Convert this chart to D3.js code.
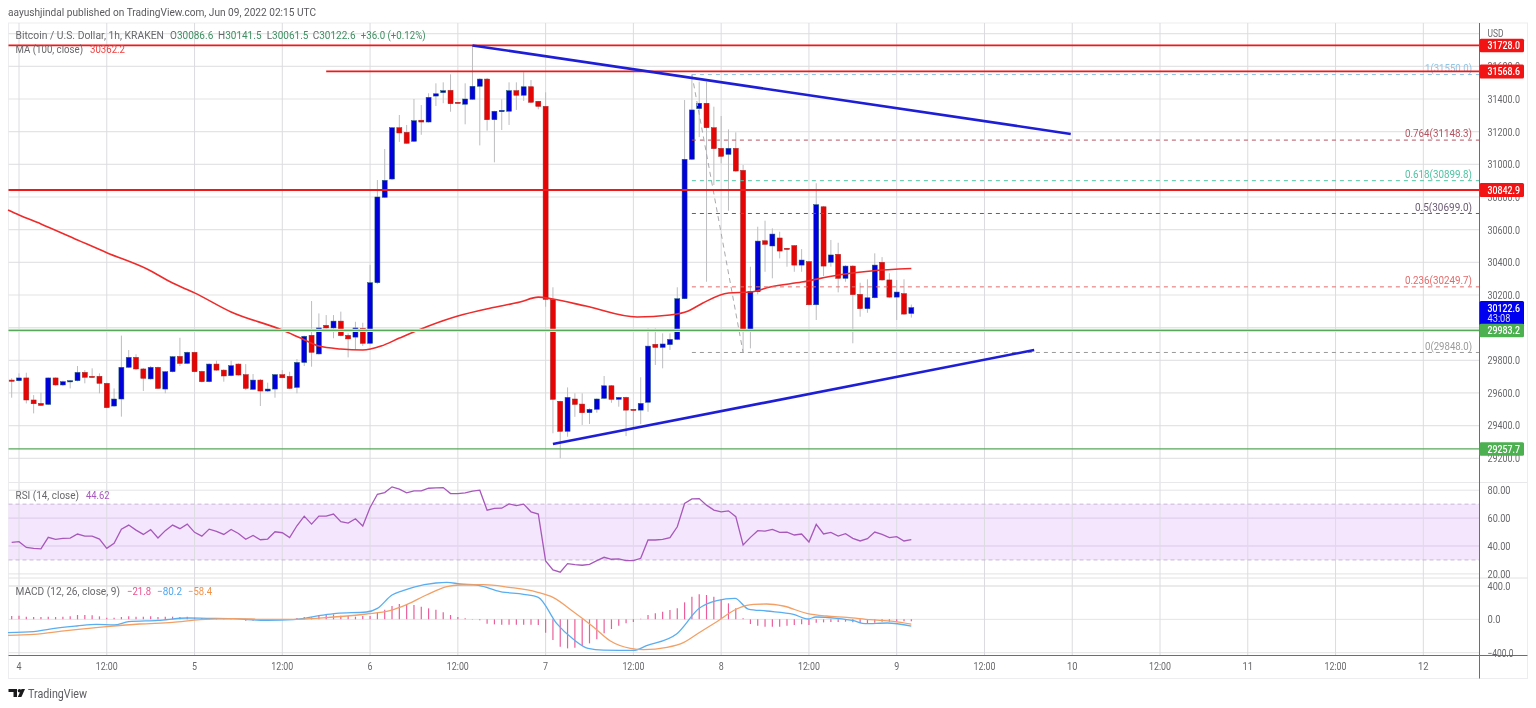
<!DOCTYPE html>
<html><head><meta charset="utf-8">
<script src="https://cdn.jsdelivr.net/npm/d3@7"></script>
<style>
html,body{margin:0;padding:0;background:#fff;overflow:hidden}
svg{display:block;filter:blur(0.35px)}
text{font-family:Roboto,"Open Sans",sans-serif}
</style></head><body>
<svg id="c" width="1536" height="708"></svg>
<script>
// ---------- data (hours counted from Jun 4 00:00 UTC) ----------
const firstHour = -1;
const opens = [29679,29675,29692,29557,29536,29530,29692,29649,29669,29675,29726,29702,29702,29659,29520,29563,29757,29818,29747,29686,29757,29624,29730,29824,29781,29849,29732,29669,29777,29740,29706,29777,29712,29622,29679,29612,29624,29712,29702,29634,29787,29953,29839,30014,29998,30040,29953,29942,29996,29904,30275,30798,30910,31224,31196,31141,31270,31259,31418,31439,31453,31380,31368,31398,31478,31522,31273,31322,31325,31451,31423,31475,31386,31355,30171,29549,29365,29563,29532,29479,29500,29567,29644,29561,29573,29500,29495,29543,29898,29879,29896,29928,30177,31031,31341,31374,31224,31098,31061,31098,30963,29990,30220,30532,30500,30549,30486,30502,30383,30404,30140,30740,30400,30449,30302,30377,30204,30116,30183,30400,30292,30187,30208,30086.6];
const highs = [29690,29720,29724,29587,29602,29695,29695,29675,29679,29765,29740,29751,29720,29663,29628,29951,29863,29837,29753,29765,29761,29734,29826,29938,29853,29853,29736,29781,29798,29745,29798,29781,29777,29716,29686,29663,29716,29740,29730,29808,29951,30163,30087,30077,30077,30098,29965,30036,30030,30384,30904,31094,31228,31302,31241,31400,31363,31435,31496,31502,31551,31382,31496,31729,31527,31529,31328,31398,31502,31502,31564,31516,31388,31441,30247,29552,29634,29598,29598,29506,29567,29704,29648,29575,29577,29502,29696,29996,29996,29965,29965,30247,31394,31547,31506,31506,31353,31296,31214,31196,30996,30373,30618,30655,30608,30587,30488,30506,30481,30408,30884,30745,30537,30520,30382,30382,30275,30296,30455,30432,30333,30292,30296,30141.5];
const lows = [29571,29671,29536,29475,29522,29526,29645,29642,29628,29671,29659,29693,29598,29506,29516,29455,29753,29741,29612,29681,29624,29598,29726,29765,29777,29726,29665,29665,29736,29669,29702,29706,29618,29618,29520,29606,29571,29690,29624,29598,29765,29761,29835,29994,29935,29947,29818,29863,29888,29900,30267,30794,30905,31137,31127,31137,31181,31255,31357,31374,31322,31372,31245,31394,31116,31206,31012,31210,31241,31333,31388,31374,31337,30128,29353,29200,29332,29454,29404,29410,29479,29563,29540,29516,29336,29389,29410,29485,29771,29751,29863,29924,30175,31027,31167,30281,30873,31006,30716,30955,29852,29873,30204,30342,30302,30424,30373,30342,30342,30137,30047,30316,30373,30216,30281,29904,30067,30091,30179,30287,30183,30047,30079,30061.5];
const closes = [29673,29692,29557,29534,29524,29692,29649,29669,29675,29726,29696,29696,29659,29510,29563,29757,29818,29747,29690,29757,29628,29730,29822,29781,29849,29730,29669,29777,29740,29704,29767,29710,29628,29679,29612,29624,29712,29693,29628,29787,29947,29849,29998,29998,30040,29951,29931,29998,29904,30275,30800,30902,31224,31192,31129,31267,31259,31410,31432,31451,31371,31374,31400,31478,31522,31273,31325,31331,31451,31423,31475,31380,31355,30173,29561,29365,29573,29530,29479,29500,29563,29644,29561,29573,29495,29494,29536,29887,29879,29900,29928,30177,31031,31333,31374,31224,31096,31049,31098,30959,29990,30222,30530,30510,30573,30469,30482,30383,30414,30140,30753,30377,30445,30302,30377,30202,30116,30183,30383,30292,30187,30218,30083,30122.6];

const maHours = [-1.5,0,3,8,12,17.5,21,24,29,36,38.5,41,44,47,49.5,52,56,60,64.5,68.5,71,73,77.5,84.5,89,91.5,93.5,97,100,102.7,107,112,116.5,122];
const maValues = [30720,30690,30635,30537,30459,30359,30273,30213,30096,29985,29936,29887,29869,29863,29887,29936,30010,30071,30120,30157,30187,30175,30132,30065,30077,30102,30151,30212,30218,30249,30279,30322,30347,30362.2];

const rsiValues = [42.6,43.1,39,38.3,37.9,46.2,44.8,45.5,45.7,48.6,47.1,47.1,45,38.3,41.9,52.1,55,51.4,48.3,51.7,45.7,51,55,52.4,55.7,49.8,47.1,52.1,50.5,48.3,51.9,49,44.8,47.6,44.5,45,50.2,49.5,46,54.5,61.4,55.7,61.4,61.4,62.9,57.4,56.4,59.5,54.3,67.6,77.1,78.3,82.4,80.7,78.1,79.5,79.5,81.4,81.7,81.9,77.6,77.6,78.1,79.3,80,65.7,66.9,67.1,70.2,69,70,64.5,62.9,29.3,22.9,21.2,27.4,26.7,26.2,26.9,29.5,31.9,30.5,30.7,29.5,29.5,31.2,44.3,44.3,44.8,46,53.8,70.5,73.8,74,69.3,65.7,64.5,65.2,61,40.7,46.2,51,50.7,51.9,49.8,50,47.9,48.6,42.9,55.5,48.6,49.8,47.1,48.8,45.5,43.6,45.2,50,48.3,46,46.7,43.6,44.62];

const histValues = [40,44,32,28,28,32,28,32,36,52,52,48,36,20,20,28,36,32,32,36,28,32,32,28,32,20,16,16,12,8,8,0,-16,-16,-12,-8,-4,0,2,16,28,24,52,52,60,44,40,32,40,40,80,116,160,184,184,172,152,132,116,84,52,28,12,4,-12,-52,-60,-64,-64,-64,-64,-64,-68,-160,-248,-328,-348,-340,-320,-288,-240,-168,-116,-76,-48,-32,8,52,72,92,112,132,204,272,300,292,272,240,192,132,12,-56,-76,-88,-88,-88,-76,-68,-60,-68,-40,-36,-32,-32,-28,-36,-48,-48,-40,-28,-28,-28,-24,-21.8];
const macdHours = [-1.5,2,4.2,7.9,10.6,13,15,19,23,25.7,29,34,37.5,41,43.4,47.5,49,51,52.5,54,57,58.5,60.3,62.8,65.8,69,71,73.5,75.8,77.8,79.9,84,85.8,89.9,93,95.4,97.9,99.7,102.2,105.9,107.9,108.9,111.8,114.1,115.7,118.7,122];
const macdValues = [-160,-148,-116,-80,-60,-68,-28,-12,16,12,8,-12,-4,44,72,88,132,292,344,388,436,444,424,408,332,300,264,-48,-240,-348,-368,-372,-316,-176,132,224,252,124,100,60,4,28,12,-16,-52,-44,-80.2];
const signalHours = [-1.5,2,6.5,12,16.5,21,24.8,29.3,34,37.5,43,47.5,50.7,53,55.7,58.5,60.3,63.5,67,70.8,73,75.8,78.5,80.8,83.6,85.4,88.6,90.9,93.2,95.4,98.1,100.4,102.2,104.5,107.7,110.4,113.2,116.4,119.6,122];
const signalValues = [-192,-180,-136,-88,-56,-36,-4,8,0,0,28,64,104,176,292,392,412,416,384,328,264,92,-88,-256,-348,-364,-336,-276,-148,-28,124,180,184,160,72,40,24,-4,-24,-58.4];

const timeTickHours = [0,12,24,36,48,60,72,84,96,108,120,132,144,156,168,180,192];
const timeTickLabels = ["4","12:00","5","12:00","6","12:00","7","12:00","8","12:00","9","12:00","10","12:00","11","12:00","12"];
const priceTicks = [31800,31600,31400,31200,31000,30800,30600,30400,30200,30000,29800,29600,29400,29200];
const hiddenPriceLabels = [31800,30000];
const rsiTicks = [80,60,40,20];
const macdTicks = [400,0,-400];

const redLevels = [31728.0,31568.6,30842.9];
const redLevelStart = [null,42,null];
const greenLevels = [29983.2,29257.7];
const trendHours = [[62,143.8],[73,138.8]];
const trendPrices = [[31728,31186],[29287,29863]];
const fibRatios = ["1","0.764","0.618","0.5","0.236","0"];
const fibPrices = [31550.0,31148.3,30899.8,30699.0,30249.7,29848.0];
const fibColors = ["#8fc5e6","#b5525f","#4fc3a1","#6b5b72","#e46a6a","#9a9a9a"];
const fibStartHour = 92, fibEndHour = 99;

// ---------- scales ----------
const PL=8.5, PR=1479.5, FR=1527.5, TOP=23, BOT=655.5, FB=678.5;
const x = d3.scaleLinear().domain([0,120]).range([19,896.7]);
const y = d3.scaleLinear().domain([31400,29200]).range([99,458.3]);
const yR = d3.scaleLinear().domain([40,80]).range([546,490.2]);
const yM = d3.scaleLinear().domain([400,-400]).range([586,652.7]);

const svg = d3.select("#c");
const GRID="#e4e4e6", TXT="#68686c";
const g = svg.append("g");

function label(px,py,str,o={}){
  const t=g.append("text").attr("x",px).attr("y",py).attr("dy","0.35em").text(str)
    .attr("fill",o.fill||TXT).attr("font-size",o.size||11)
    .attr("text-anchor",o.anchor||"start");
  if(o.weight)t.attr("font-weight",o.weight);
  if(o.width)t.attr("textLength",o.width).attr("lengthAdjust","spacingAndGlyphs");
  return t;
}
function hline(yy,x1,x2,c,w,dash){
  const l=g.append("line").attr("x1",x1).attr("x2",x2).attr("y1",yy).attr("y2",yy).attr("stroke",c).attr("stroke-width",w);
  if(dash)l.attr("stroke-dasharray",dash);
  return l;
}
// frame
g.append("rect").attr("x",PL).attr("y",TOP).attr("width",FR-PL).attr("height",FB-TOP).attr("fill","#fff").attr("stroke","#ededef");

// RSI band
g.append("rect").attr("x",PL).attr("width",PR-PL).attr("y",yR(70)).attr("height",yR(30)-yR(70)).attr("fill","#f4e6fd");

// grid
priceTicks.forEach(v=>hline(y(v),PL,PR,GRID,1.2));
rsiTicks.forEach(v=>hline(yR(v),PL,PR,v==60||v==40?"#dcc9ea":GRID,1));
macdTicks.forEach(v=>hline(yM(v),PL,PR,GRID,v==400?1.6:1));
timeTickHours.forEach(h=>{
  g.append("line").attr("x1",x(h)).attr("x2",x(h)).attr("y1",TOP).attr("y2",BOT).attr("stroke","#dcdce0").attr("stroke-width",1);
});
hline(482.5,PL,FR,"#e8e8ea",1);
hline(578,PL,FR,"#e2e2e4",1);
[70,30].forEach(v=>hline(yR(v),PL,PR,"#c9b6d6",1,"4,3"));

// candles
const rows = opens.map((o,i)=>({h:firstHour+i,o,c:closes[i],hi:highs[i],lo:lows[i]}));
g.append("g").selectAll("line").data(rows).join("line")
  .attr("x1",d=>x(d.h)).attr("x2",d=>x(d.h)).attr("y1",d=>y(d.hi)).attr("y2",d=>y(d.lo))
  .attr("stroke","#bdbdc0").attr("stroke-width",1);
g.append("g").selectAll("rect").data(rows).join("rect")
  .attr("x",d=>x(d.h)-2.5).attr("width",5)
  .attr("y",d=>Math.min(y(d.o),y(d.c)))
  .attr("height",d=>Math.max(1.2,Math.abs(y(d.o)-y(d.c))))
  .attr("fill",d=>d.c>=d.o?"#0000dc":"#e60505")
  .attr("stroke",d=>d.c>=d.o?"#1d5a6e":"#a52020").attr("stroke-width",0.5);

// MA
g.append("path").attr("d",d3.line().x((d,i)=>x(maHours[i])).y(d=>y(d)).curve(d3.curveMonotoneX)(maValues))
  .attr("fill","none").attr("stroke","#ee2b2b").attr("stroke-width",1.6);

// fib
fibPrices.forEach((p,i)=>{
  hline(y(p),x(fibStartHour),PR,fibColors[i],1,"4,4");
  label(1472,y(p)-6.5,`${fibRatios[i]}(${p.toFixed(1)})`,{fill:fibColors[i],anchor:"end",width:i==0||i==5?47:i==3?57:67});
});
g.append("line").attr("x1",x(fibStartHour)).attr("y1",y(fibPrices[0])).attr("x2",x(fibEndHour)).attr("y2",y(fibPrices[5]))
  .attr("stroke","#a9a9ad").attr("stroke-width",1).attr("stroke-dasharray","5,4");

// levels
redLevels.forEach((v,i)=>hline(y(v),redLevelStart[i]===null?PL:x(redLevelStart[i]),PR,"#f01818",1.8));
hline(y(greenLevels[0]),PL,PR,"#d4ebd4",3.2);
greenLevels.forEach(v=>hline(y(v),PL,PR,"#57a85a",1.3));

// trend lines
trendHours.forEach((hs,i)=>{
  g.append("line").attr("x1",x(hs[0])).attr("x2",x(hs[1])).attr("y1",y(trendPrices[i][0])).attr("y2",y(trendPrices[i][1]))
    .attr("stroke","#1e1ed6").attr("stroke-width",2.6);
});

// RSI & MACD lines
g.append("path").attr("d",d3.line().x((d,i)=>x(firstHour+i)).y(d=>yR(d))(rsiValues))
  .attr("fill","none").attr("stroke","#a758bb").attr("stroke-width",1.3);
g.append("g").selectAll("line").data(histValues).join("line")
  .attr("x1",(d,i)=>x(firstHour+i)).attr("x2",(d,i)=>x(firstHour+i)).attr("y1",yM(0)).attr("y2",d=>yM(d))
  .attr("stroke","#ea5f9b").attr("stroke-width",1.2);
g.append("path").attr("d",d3.line().x((d,i)=>x(macdHours[i])).y(d=>yM(d)).curve(d3.curveMonotoneX)(macdValues))
  .attr("fill","none").attr("stroke","#5aaef0").attr("stroke-width",1.3);
g.append("path").attr("d",d3.line().x((d,i)=>x(signalHours[i])).y(d=>yM(d)).curve(d3.curveMonotoneX)(signalValues))
  .attr("fill","none").attr("stroke","#f2a066").attr("stroke-width",1.3);

// axis lines
g.append("line").attr("x1",PR).attr("x2",PR).attr("y1",TOP).attr("y2",FB).attr("stroke","#6e6e70").attr("stroke-width",1);
hline(BOT,PL,FR,"#6e6e70",1);

// axis labels
const axisX = 1487.5;
priceTicks.filter(v=>!hiddenPriceLabels.includes(v)).forEach(v=>label(axisX,y(v),v.toFixed(1),{width:32.5}));
label(axisX,33.5,"USD",{width:16});
rsiTicks.forEach(v=>label(axisX,yR(v),v.toFixed(2),{width:23}));
macdTicks.forEach(v=>label(axisX,yM(v),(v<0?"\u2212":"")+Math.abs(v).toFixed(1),{width:v==400?23:v==0?13:26}));
timeTickHours.forEach((h,i)=>label(x(h),666.5,timeTickLabels[i],{anchor:"middle",width:timeTickLabels[i].length==5?22:timeTickLabels[i].length==2?10.5:5}));

// price tags
function tag(v,c,h){
  const yy=y(v);
  g.append("rect").attr("x",1479.5).attr("y",yy-h/2).attr("width",44.5).attr("height",h).attr("rx",1.5).attr("fill",c);
  label(axisX,yy,v.toFixed(1),{fill:"#fff",width:32.5,weight:500});
}
tag(31728.0,"#f21414",13.5);
tag(31568.6,"#f21414",14);
tag(30842.9,"#f21414",14);
g.append("rect").attr("x",1479.5).attr("y",301).attr("width",44.5).attr("height",24).attr("rx",1.5).attr("fill","#0000f0");
label(axisX,308,(closes[closes.length-1]).toFixed(1),{fill:"#fff",width:32.5,weight:500,size:10.5});
label(axisX,318.5,"43:08",{fill:"#dcdcff",width:23,size:10});
tag(29983.2,"#4caf50",13.5);
tag(29257.7,"#4caf50",13.5);

// header
const LEG = 10;
label(8,12.5,"aayushjindal published on TradingView.com, Jun 09, 2022 02:15 UTC",{width:308,fill:"#5a5a5e"});
label(15.5,35,"Bitcoin / U.S. Dollar, 1h, KRAKEN",{width:148.5,size:LEG});
const GV="#3f8f62";
const ohlcX=[170,218,266.7,312.7], ohlcW=[42,42,39.5,40.5];
[["O",opens],["H",highs],["L",lows],["C",closes]].forEach(([k,a],i)=>{
  const t=label(ohlcX[i],35,"",{size:LEG});
  t.append("tspan").attr("fill",TXT).text(k);
  t.append("tspan").attr("fill",GV).text(a[a.length-1].toFixed(1));
});
label(360.7,35,"+36.0 (+0.12%)",{fill:GV,width:65,size:LEG});
label(15.5,49.5,"MA (100, close)",{width:67.5});
label(90,49.5,maValues[maValues.length-1].toFixed(1),{fill:"#f04040",width:35});
label(15.5,495,"RSI (14, close)",{width:63.5});
label(86,495,rsiValues[rsiValues.length-1].toFixed(2),{fill:"#a758bb",width:23.5});
label(15.5,591.5,"MACD (12, 26, close, 9)",{width:104.5});
label(127,591.5,"\u2212"+Math.abs(histValues[histValues.length-1]).toFixed(1),{fill:"#ee4f8f",width:24});
label(157,591.5,"\u2212"+Math.abs(macdValues[macdValues.length-1]).toFixed(1),{fill:"#4ea6ee",width:25});
label(188,591.5,"\u2212"+Math.abs(signalValues[signalValues.length-1]).toFixed(1),{fill:"#f2924a",width:24});

// footer logo
g.append("path").attr("fill","#1a1a1c").attr("d","M8.5 689h8.5v8h-3.5v-5h-5z");
g.append("circle").attr("cx",19.5).attr("cy",690.8).attr("r",1.8).attr("fill","#1a1a1c");
g.append("path").attr("fill","#1a1a1c").attr("d","M21.5 689h3.5l-3.6 8h-3.6z");
label(28,693.5,"TradingView",{size:12.5,width:59,fill:"#5c5c60"});
</script>
</body></html>
